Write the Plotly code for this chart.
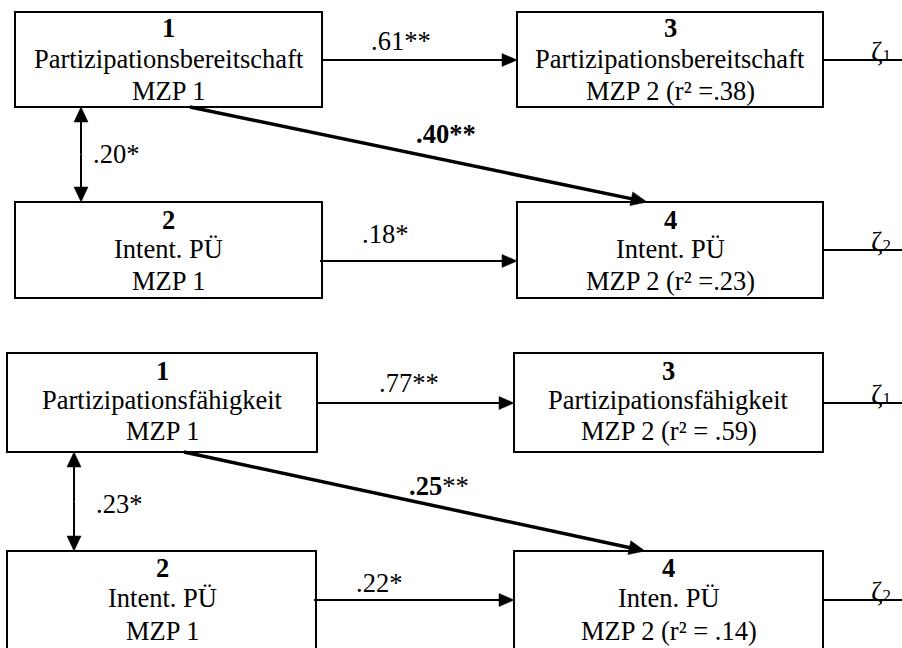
import math
import plotly.graph_objects as go

# ---------------- data ----------------
panel_constructs = ["Partizipationsbereitschaft", "Partizipationsfähigkeit"]
outcome_label_t1 = ["Intent. PÜ", "Intent. PÜ"]
outcome_label_t2 = ["Intent. PÜ", "Inten. PÜ"]
time_labels = ["MZP 1", "MZP 2"]
node_numbers = ["1", "2", "3", "4"]
stability_coef = [0.61, 0.77]     # 1 -> 3
stability_sig = ["**", "**"]
cross_coef = [0.40, 0.25]         # 1 -> 4
cross_sig = ["**", "**"]
corr_coef = [0.20, 0.23]          # 1 <-> 2
corr_sig = ["*", "*"]
outcome_coef = [0.18, 0.22]       # 2 -> 4
outcome_sig = ["*", "*"]
r2_node3 = [0.38, 0.59]
r2_node4 = [0.23, 0.14]
residual_symbol = "ζ"
residual_index = ["1", "2"]

# ---------------- layout geometry (pixels) ----------------
geom = [
    dict(b1=(15, 322, 12, 107), b2=(15, 322, 202, 298), b3=(517, 823, 12, 107), b4=(517, 823, 202, 298),
         y13=60, y24=261, x12=81, d_from=(190, 107), d_to=(647, 202), z1=60, z2=250,
         base1=[37, 68, 100], base2=[229, 258, 290],
         lab13=(401, 50), lab14=(446, 143), lab12=(116, 163), lab24=(385, 243), r2sep="=",
         crossbold_all=True),
    dict(b1=(7, 317, 353, 452), b2=(7, 316, 551, 662), b3=(514, 823, 353, 452), b4=(514, 823, 551, 662),
         y13=403, y24=600, x12=74, d_from=(184, 452), d_to=(645, 551), z1=403, z2=600,
         base1=[380, 409, 440], base2=[577, 607, 640],
         lab13=(409, 392), lab14=(439, 495), lab12=(119, 513), lab24=(379, 592), r2sep="= ",
         crossbold_all=False),
]

FONT = "Liberation Serif"
FS = 26.5
W, H = 902, 648

def fmt(v):
    return "." + f"{int(round(v * 100)):02d}"

shapes = []
annotations = []

def rect(b, lw=2):
    x0, x1, y0, y1 = b
    shapes.append(dict(type="rect", xref="x", yref="y", x0=x0, x1=x1, y0=y0, y1=y1,
                       line=dict(color="black", width=lw), fillcolor="rgba(0,0,0,0)"))

def line(p, q, lw=2):
    shapes.append(dict(type="line", xref="x", yref="y", x0=p[0], y0=p[1], x1=q[0], y1=q[1],
                       line=dict(color="black", width=lw)))

def arrow(p, tip, lw=2, L=15, Wd=13):
    dx, dy = tip[0] - p[0], tip[1] - p[1]
    n = math.hypot(dx, dy)
    ux, uy = dx / n, dy / n
    bx, by = tip[0] - ux * L, tip[1] - uy * L
    px, py = -uy * Wd / 2, ux * Wd / 2
    line(p, (bx + ux * 2, by + uy * 2), lw)
    path = f"M {tip[0]},{tip[1]} L {bx + px},{by + py} L {bx - px},{by - py} Z"
    shapes.append(dict(type="path", xref="x", yref="y", path=path,
                       fillcolor="black", line=dict(color="black", width=0.5)))

def text(x, baseline, s, size=FS, xanchor="center"):
    annotations.append(dict(x=x, y=baseline - 0.34 * size, xref="x", yref="y", text=s,
                            showarrow=False, xanchor=xanchor, yanchor="middle",
                            font=dict(family=FONT, size=size, color="black")))

for i, g in enumerate(geom):
    for b in (g["b1"], g["b2"], g["b3"], g["b4"]):
        rect(b)
    cx1 = (g["b1"][0] + g["b1"][1]) / 2
    cx3 = (g["b3"][0] + g["b3"][1]) / 2
    # node texts
    lines1 = [f"<b>{node_numbers[0]}</b>", panel_constructs[i], time_labels[0]]
    lines2 = [f"<b>{node_numbers[1]}</b>", outcome_label_t1[i], time_labels[0]]
    lines3 = [f"<b>{node_numbers[2]}</b>", panel_constructs[i],
              f"{time_labels[1]} (r² {g['r2sep']}{fmt(r2_node3[i])})"]
    lines4 = [f"<b>{node_numbers[3]}</b>", outcome_label_t2[i],
              f"{time_labels[1]} (r² {g['r2sep']}{fmt(r2_node4[i])})"]
    for s, bl in zip(lines1, g["base1"]):
        text(cx1, bl, s)
    for s, bl in zip(lines3, g["base1"]):
        text(cx3, bl, s)
    for s, bl in zip(lines2, g["base2"]):
        text(cx1, bl, s)
    for s, bl in zip(lines4, g["base2"]):
        text(cx3, bl, s)

    # paths
    arrow((g["b1"][1], g["y13"]), (g["b3"][0], g["y13"]), lw=2)
    arrow((g["b2"][1] - 2, g["y24"]), (g["b4"][0], g["y24"]), lw=2)
    arrow(g["d_from"], g["d_to"], lw=3.5, L=16, Wd=14)
    # double-headed correlation
    xa = g["x12"]
    ytop, ybot = g["b1"][3], g["b2"][2]
    arrow((xa, (ytop + ybot) / 2), (xa, ytop), lw=2, L=15, Wd=14)
    arrow((xa, (ytop + ybot) / 2), (xa, ybot), lw=2, L=15, Wd=14)
    # residual lines and labels
    for zy, idx in ((g["z1"], residual_index[0]), (g["z2"], residual_index[1])):
        line((g["b3"][1], zy), (W + 5, zy), lw=2)
        text(869, zy + 1, f"{residual_symbol}<span style='font-size:17px'>{idx}</span>",
             size=28, xanchor="left")

    # coefficient labels
    text(g["lab13"][0], g["lab13"][1], fmt(stability_coef[i]) + stability_sig[i])
    if g["crossbold_all"]:
        s14 = f"<b>{fmt(cross_coef[i])}{cross_sig[i]}</b>"
    else:
        s14 = f"<b>{fmt(cross_coef[i])}</b>{cross_sig[i]}"
    text(g["lab14"][0], g["lab14"][1], s14)
    text(g["lab12"][0], g["lab12"][1], fmt(corr_coef[i]) + corr_sig[i])
    text(g["lab24"][0], g["lab24"][1], fmt(outcome_coef[i]) + outcome_sig[i])

fig = go.Figure()
fig.update_layout(
    width=W, height=H,
    margin=dict(l=0, r=0, t=0, b=0),
    paper_bgcolor="white", plot_bgcolor="white",
    font=dict(family=FONT, size=FS, color="black"),
    xaxis=dict(range=[0, W], visible=False, fixedrange=True),
    yaxis=dict(range=[H, 0], visible=False, fixedrange=True),
    shapes=shapes, annotations=annotations, showlegend=False,
)
fig.write_html("out.html", config={"displayModeBar": False},
               post_script="document.body.style.margin='0';document.body.style.overflow='hidden';")
